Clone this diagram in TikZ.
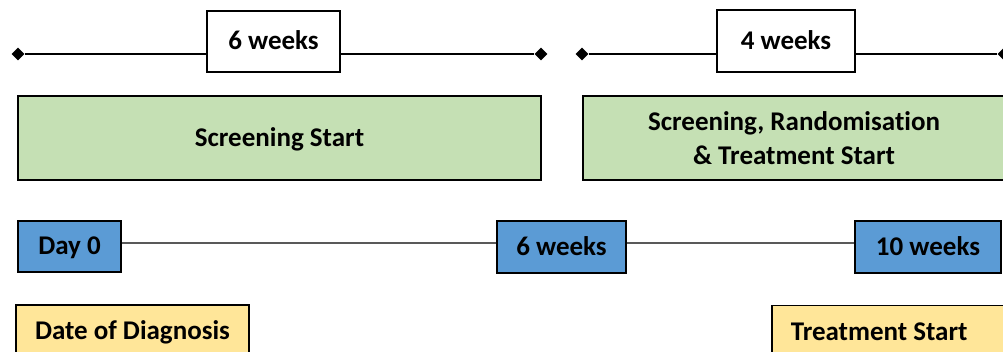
\documentclass[tikz,border=0pt]{standalone}
\usepackage{fontspec}
\setmainfont{Carlito}[Ligatures={NoCommon}]
\usetikzlibrary{shapes.geometric}

\definecolor{scrgreen}{HTML}{C5E0B4}
\definecolor{dayblue}{HTML}{5B9BD5}
\definecolor{evyellow}{HTML}{FFE699}

\begin{document}
\begin{tikzpicture}[x=1pt,y=-1pt,
  every node/.style={font=\fontsize{27}{34}\selectfont\bfseries},
  box/.style={rectangle,draw=black,line width=1.5pt,inner sep=0pt},
  oneline/.style={box,text height=17pt,text depth=0pt},
  tip/.style={diamond,fill=black,inner sep=0pt,minimum size=13pt},
  span/.style={line width=1.6pt},
  tline/.style={line width=1.2pt,draw=black!65}]
\useasboundingbox (0,0) rectangle (1003,352);
\clip (0,0) rectangle (1003,352);

% durations
\node[tip] (d1) at (18,54) {};
\node[tip] (d2) at (541,54) {};
\node[tip] (d3) at (582,54) {};
\node[tip] (d4) at (1004,54) {};
\node[oneline,fill=white,minimum width=133pt,minimum height=61pt] (dur6) at (273.5,41.5) {6 weeks};
\node[oneline,fill=white,minimum width=138pt,minimum height=62pt] (dur4) at (786,41) {4 weeks};
\draw[span] (d1) -- (d1 -| dur6.west);
\draw[span] (d2 -| dur6.east) -- (d2);
\draw[span] (d3) -- (d3 -| dur4.west);
\draw[span] (d4 -| dur4.east) -- (d4);

% phases
\node[oneline,fill=scrgreen,minimum width=523pt,minimum height=84pt] (scr1) at (279.5,138) {Screening Start};
\node[box,fill=scrgreen,minimum width=422pt,minimum height=84pt,align=center] (scr2) at (794,138) {Screening, Randomisation\\\& Treatment Start};

% timeline
\coordinate (t0) at (0,243);
\node[oneline,fill=dayblue,minimum width=103pt,minimum height=51pt] (day0) at (69.5,246.5) {Day 0};
\node[oneline,fill=dayblue,minimum width=129pt,minimum height=52pt] (wk6) at (561.5,247) {6 weeks};
\node[oneline,fill=dayblue,minimum width=146pt,minimum height=52pt] (wk10) at (928,247) {10 weeks};
\draw[tline] (t0 -| day0.east) -- (t0 -| wk6.west);
\draw[tline] (t0 -| wk6.east) -- (t0 -| wk10.west);

% events
\node[oneline,fill=evyellow,minimum width=233pt,minimum height=52pt] (diag) at (132.5,331) {Date of Diagnosis};
\node[oneline,fill=evyellow,anchor=north west,minimum height=52pt,text width=200pt,align=flush left,inner xsep=19pt] (treat) at (771,305) {Treatment Start};
\end{tikzpicture}
\end{document}
